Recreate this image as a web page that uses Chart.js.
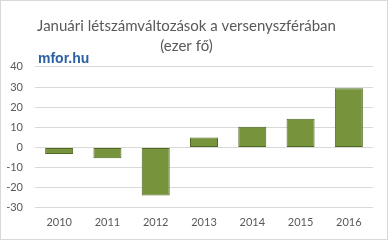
<!DOCTYPE html>
<html>
<head>
<meta charset="utf-8">
<script src="https://cdn.jsdelivr.net/npm/chart.js@4"></script>
<style>
  html, body { margin: 0; padding: 0; background: #fff; }
  #wrap { width: 388px; height: 240px; }
</style>
</head>
<body>
<div id="wrap"><canvas id="myChart" width="388" height="240"></canvas></div>
<script>
const years = ['2010', '2011', '2012', '2013', '2014', '2015', '2016']
const changes = [-3.3, -5.4, -23.9, 4.9, 10.3, 14.2, 29.4]
const titleLines = ['Januári létszámváltozások a versenyszférában', '(ezer fő)']
const logoText = 'mfor.hu'

const frame = {
    id: 'frame',
    beforeDraw(chart) {
        const c = chart.ctx
        c.save()
        c.fillStyle = '#fff'
        c.fillRect(0, 0, chart.width, chart.height)
        c.strokeStyle = '#d9d9d9'
        c.lineWidth = 1
        c.strokeRect(0.5, 0.5, chart.width - 1, chart.height - 1)
        c.restore()
    },
    afterDraw(chart) {
        const c = chart.ctx
        c.save()
        c.font = 'bold 14px "Liberation Sans", Arial, sans-serif'
        c.fillStyle = '#2b62a3'
        c.textBaseline = 'alphabetic'
        c.fillText(logoText, 38, 63)
        c.restore()
    }
}

const ctx = document.getElementById('myChart')
const myChart = new Chart(ctx, {
    type: 'bar',
    data: {
        labels: years,
        datasets: [{
            data: changes,
            backgroundColor: '#77933c',
            borderColor: '#4f6a22',
            borderWidth: 1,
            borderSkipped: false,
            barPercentage: 0.58,
            categoryPercentage: 1
        }]
    },
    options: {
        responsive: false,
        animation: false,
        layout: { padding: { left: 0, right: 15, bottom: 3, top: 0 } },
        plugins: {
            legend: { display: false },
            tooltip: { enabled: false },
            title: {
                display: true,
                text: titleLines,
                color: '#595959',
                font: { family: 'Lato', size: 15, weight: 'normal', lineHeight: 1.33 },
                padding: { top: 16, bottom: 11 }
            }
        },
        scales: {
            x: {
                grid: { display: false, drawTicks: false },
                border: { display: false },
                ticks: { color: '#595959', font: { family: 'Lato', size: 11 }, padding: 8 }
            },
            y: {
                min: -30,
                max: 40,
                grid: { color: '#d9d9d9', drawTicks: false },
                border: { display: false },
                ticks: { stepSize: 10, color: '#595959', font: { family: 'Lato', size: 11 }, padding: 12 },
                afterFit(scale) { scale.width = 35 }
            }
        }
    },
    plugins: [frame]
})
</script>
</body>
</html>
